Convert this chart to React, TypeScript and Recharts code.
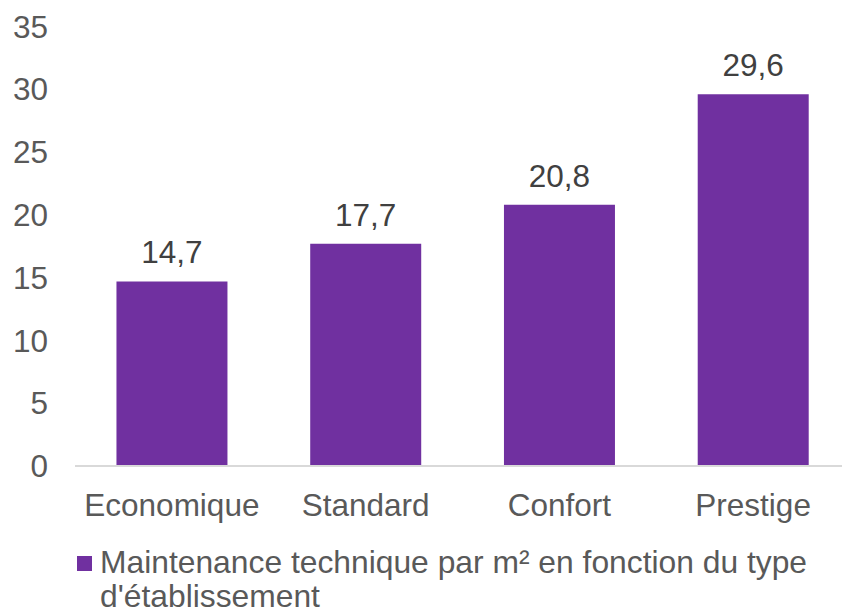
import { BarChart, Bar, XAxis, YAxis, Legend, LabelList } from 'recharts'

const categories = ['Economique', 'Standard', 'Confort', 'Prestige']
const values = [14.7, 17.7, 20.8, 29.6]
const yTicks = [0, 5, 10, 15, 20, 25, 30, 35]
const seriesName = "Maintenance technique par m² en fonction du type d'établissement"

const data = categories.map((name, i) => ({ name, value: values[i] }))

const FONT = '"Liberation Sans", Arial, sans-serif'
const PURPLE = '#7030A0'
const GREY = '#595959'

const LegendContent = () => (
  <div style={{ display: 'flex', alignItems: 'flex-start', fontFamily: FONT }}>
    <div
      style={{
        width: 15,
        height: 15,
        background: PURPLE,
        marginTop: 11,
        marginRight: 8,
        flex: '0 0 auto',
      }}
    />
    <div style={{ fontSize: 31.8, lineHeight: '34px', color: GREY, width: 735 }}>
      {seriesName}
    </div>
  </div>
)

const App = () => {
  return (
    <div
      style={{
        position: 'absolute',
        left: 0,
        top: 0,
        width: 842,
        height: 613,
        overflow: 'hidden',
        background: '#ffffff',
      }}
    >
      <BarChart
        width={860}
        height={613}
        data={data}
        margin={{ top: 26.5, right: 10, left: 0, bottom: 0 }}
        barCategoryGap="21.4%"
      >
        <XAxis
          dataKey="name"
          axisLine={{ stroke: '#d9d9d9', strokeWidth: 2 }}
          tickLine={false}
          tickSize={0}
          tickMargin={28}
          height={79}
          tick={{ fill: GREY, fontSize: 31.5, fontFamily: FONT }}
        />
        <YAxis
          width={75}
          domain={[0, 35]}
          ticks={yTicks}
          interval={0}
          axisLine={false}
          tickLine={false}
          tickSize={0}
          tickMargin={27}
          tick={{ fill: GREY, fontSize: 31.5, fontFamily: FONT }}
        />
        <Legend
          verticalAlign="bottom"
          align="left"
          content={<LegendContent />}
          wrapperStyle={{ left: 77, width: 760 }}
        />
        <Bar dataKey="value" name={seriesName} fill={PURPLE} isAnimationActive={false}>
          <LabelList
            dataKey="value"
            position="top"
            offset={18}
            formatter={(v: any) => String(v).replace('.', ',')}
            style={{ fill: '#404040', fontSize: 31.5, fontFamily: FONT }}
          />
        </Bar>
      </BarChart>
    </div>
  )
}

export default App
